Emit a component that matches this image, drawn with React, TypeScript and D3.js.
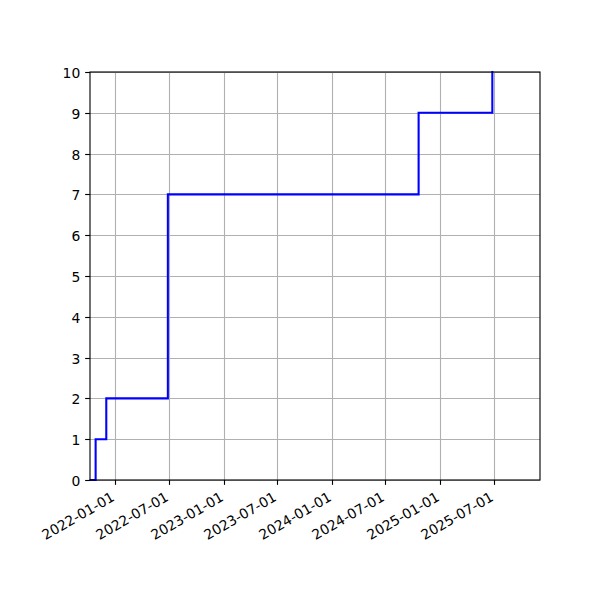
import { useEffect, useRef } from "react";
import * as d3 from "d3";

// cumulative count, drawn as a post-step line
const stepDates = ["2021-10-09", "2021-10-26", "2021-12-01", "2022-06-27", "2024-10-21", "2025-06-27"];
const stepCounts = [0, 1, 2, 7, 9, 10];

const xLimits = ["2021-10-07", "2025-12-05"];
const yLimits = [0, 10];
const xTickDates = ["2022-01-01", "2022-07-01", "2023-01-01", "2023-07-01", "2024-01-01", "2024-07-01", "2025-01-01", "2025-07-01"];
const yTickValues = [0, 1, 2, 3, 4, 5, 6, 7, 8, 9, 10];

const W = 600, H = 600;
const ML = 90, MR = 60, MT = 72, MB = 120;
const FONT = "'DejaVu Sans', sans-serif";
const FS = 13.9;

export default function App() {
  const svgRef = useRef<SVGSVGElement>(null);

  useEffect(() => {
    if (!svgRef.current) return;
    const svg = d3.select(svgRef.current);
    svg.selectAll("*").remove();

    const parse = d3.utcParse("%Y-%m-%d");
    const data = stepDates.map((d, i) => ({ date: parse(d)!, n: stepCounts[i] }));

    const x = d3.scaleUtc()
      .domain(xLimits.map(d => parse(d)!) as [Date, Date])
      .range([ML, W - MR]);
    const y = d3.scaleLinear().domain(yLimits).range([H - MB, MT]);

    const x0 = ML, x1 = W - MR, y0 = H - MB, y1 = MT;
    const snap = (v: number) => Math.round(v) + 0.5;

    svg.append("rect").attr("width", W).attr("height", H).attr("fill", "#fff");

    // Grid
    const grid = svg.append("g").attr("stroke", "#b0b0b0").attr("stroke-width", 1.11);
    for (const t of xTickDates) {
      const xp = snap(x(parse(t)!));
      grid.append("line").attr("x1", xp).attr("x2", xp).attr("y1", y1).attr("y2", y0);
    }
    for (const v of yTickValues) {
      const yp = snap(y(v));
      grid.append("line").attr("x1", x0).attr("x2", x1).attr("y1", yp).attr("y2", yp);
    }

    // Step line
    const line = d3.line<typeof data[0]>()
      .x(d => x(d.date)).y(d => y(d.n))
      .curve(d3.curveStepAfter);
    svg.append("path").datum(data)
      .attr("d", line).attr("fill", "none")
      .attr("stroke", "#0000ff").attr("stroke-width", 2.08)
      .attr("stroke-linejoin", "miter").attr("stroke-linecap", "square");

    // Spines
    svg.append("rect")
      .attr("x", x0).attr("y", y1).attr("width", x1 - x0).attr("height", y0 - y1)
      .attr("fill", "none").attr("stroke", "#000").attr("stroke-width", 1.11);

    // X ticks + rotated labels
    const xt = svg.append("g");
    for (const t of xTickDates) {
      const xp = snap(x(parse(t)!));
      xt.append("line").attr("x1", xp).attr("x2", xp).attr("y1", y0).attr("y2", y0 + 4.86)
        .attr("stroke", "#000").attr("stroke-width", 1.11);
      xt.append("text")
        .attr("transform", `translate(${xp},${y0 + 9.7 + 10.2}) rotate(-30)`)
        .attr("text-anchor", "end")
        .attr("font-family", FONT).attr("font-size", FS).attr("fill", "#000")
        .text(t);
    }

    // Y ticks + labels
    const yt = svg.append("g");
    for (const v of yTickValues) {
      const yp = snap(y(v));
      yt.append("line").attr("x1", x0 - 4.86).attr("x2", x0).attr("y1", yp).attr("y2", yp)
        .attr("stroke", "#000").attr("stroke-width", 1.11);
      yt.append("text")
        .attr("x", x0 - 9.7).attr("y", yp).attr("dy", "0.36em")
        .attr("text-anchor", "end")
        .attr("font-family", FONT).attr("font-size", FS).attr("fill", "#000")
        .text(String(v));
    }
  }, []);

  return (
    <div style={{ position: "fixed", left: 0, top: 0 }}>
      <svg ref={svgRef} width={W} height={H} style={{ display: "block" }} />
    </div>
  );
}
